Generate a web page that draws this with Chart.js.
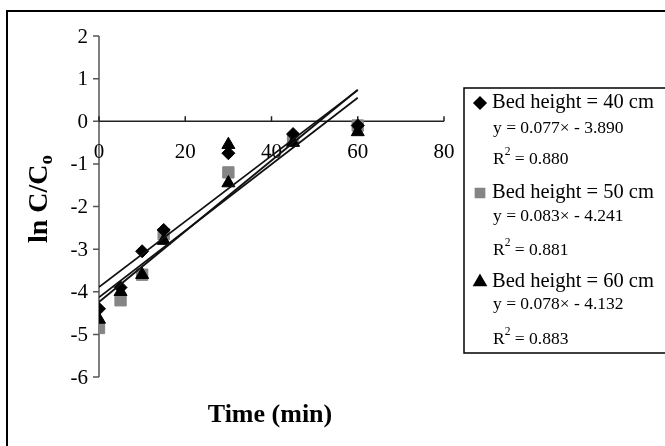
<!DOCTYPE html>
<html>
<head>
<meta charset="utf-8">
<script src="https://cdn.jsdelivr.net/npm/chart.js@4/dist/chart.umd.min.js"></script>
<style>
  html, body { margin: 0; padding: 0; background: #fff; }
  #chart { display: block; }
</style>
</head>
<body>
<canvas id="chart" width="665" height="446"></canvas>
<script>
// datos
const xTicks = [0, 20, 40, 60, 80];
const yTicks = [2, 1, 0, -1, -2, -3, -4, -5, -6];

const x40 = [0, 5, 10, 15, 30, 45, 60];
const y40 = [-4.4, -3.9, -3.05, -2.55, -0.75, -0.3, -0.1];

const x50 = [0, 5, 10, 15, 30, 45, 60];
const y50 = [-4.85, -4.2, -3.6, -2.65, -1.2, -0.45, -0.1];

const x60 = [0, 5, 10, 15, 30, 30, 45, 60];
const y60 = [-4.65, -4.0, -3.6, -2.8, -0.55, -1.45, -0.5, -0.25];

// líneas de tendencia (extremos en x = 0 y x = 60)
const trendX = [0, 60];
const trend40 = [-3.89, 0.73];
const trend50 = [-4.24, 0.74];
const trend60 = [-4.13, 0.55];

const legendLabels = ["Bed height = 40 cm", "Bed height = 50 cm", "Bed height = 60 cm"];
const legendEquations = ["y = 0.077\u00d7 - 3.890", "y = 0.083\u00d7 - 4.241", "y = 0.078\u00d7 - 4.132"];
const legendR2 = ["0.880", "0.881", "0.883"];

const serif = "'Liberation Serif', 'Times New Roman', serif";

const pts = (xs, ys) => xs.map((x, i) => ({ x: x, y: ys[i] }));

const markerStyles = [
    { pointStyle: "rectRot", radius: 6.5, color: "#000", legendRadius: 6 },
    { pointStyle: "rect", radius: 8, color: "#858585", legendRadius: 6.5 },
    { pointStyle: "triangle", radius: 7.5, color: "#000", legendRadius: 7 }
];

// plugin: ejes, títulos, leyenda y marco
const excelLook = {
    id: "excelLook",
    beforeDraw(chart) {
        const { ctx } = chart;
        ctx.save();
        ctx.fillStyle = "#fff";
        ctx.fillRect(0, 0, chart.width, chart.height);
        ctx.restore();
    },
    beforeDatasetsDraw(chart) {
        const { ctx, scales: { x, y } } = chart;
        const x0 = x.getPixelForValue(0);
        const yZero = y.getPixelForValue(0);
        ctx.save();
        ctx.strokeStyle = "#555";
        ctx.lineWidth = 1.5;

        // eje y
        ctx.beginPath();
        ctx.moveTo(x0, y.getPixelForValue(yTicks[0]));
        ctx.lineTo(x0, y.getPixelForValue(yTicks[yTicks.length - 1]));
        yTicks.forEach(v => {
            const p = y.getPixelForValue(v);
            ctx.moveTo(x0 - 6, p);
            ctx.lineTo(x0, p);
        });
        ctx.stroke();

        // eje x en y = 0
        ctx.strokeStyle = "#222";
        ctx.beginPath();
        ctx.moveTo(x0, yZero);
        ctx.lineTo(x.getPixelForValue(xTicks[xTicks.length - 1]), yZero);
        xTicks.forEach(v => {
            const p = x.getPixelForValue(v);
            ctx.moveTo(p, yZero - 5);
            ctx.lineTo(p, yZero);
        });
        ctx.stroke();

        // etiquetas
        ctx.fillStyle = "#000";
        ctx.font = "21px " + serif;
        ctx.textAlign = "right";
        ctx.textBaseline = "middle";
        yTicks.forEach(v => {
            ctx.fillText(String(v), x0 - 11, y.getPixelForValue(v) + 1);
        });
        ctx.textAlign = "center";
        xTicks.forEach(v => {
            ctx.fillText(String(v), x.getPixelForValue(v), yZero + 31);
        });

        // título eje x
        ctx.font = "bold 26px " + serif;
        ctx.fillText("Time (min)", 270, 415);

        // título eje y (rotado)
        ctx.translate(40, 199);
        ctx.rotate(-Math.PI / 2);
        const main = "ln C/C";
        ctx.font = "bold 28px " + serif;
        const wMain = ctx.measureText(main).width;
        ctx.font = "bold 19px " + serif;
        const wSub = ctx.measureText("o").width;
        const start = -(wMain + wSub) / 2;
        ctx.textAlign = "left";
        ctx.font = "bold 28px " + serif;
        ctx.fillText(main, start, 0);
        ctx.font = "bold 19px " + serif;
        ctx.fillText("o", start + wMain, 7);
        ctx.restore();
    },
    afterDraw(chart) {
        const { ctx } = chart;
        ctx.save();

        // marco exterior
        ctx.strokeStyle = "#000";
        ctx.lineWidth = 2;
        ctx.beginPath();
        ctx.moveTo(7, chart.height);
        ctx.lineTo(7, 11);
        ctx.lineTo(chart.width, 11);
        ctx.stroke();

        // caja de leyenda
        ctx.lineWidth = 1.5;
        ctx.beginPath();
        ctx.moveTo(chart.width, 88);
        ctx.lineTo(464, 88);
        ctx.lineTo(464, 353);
        ctx.lineTo(chart.width, 353);
        ctx.stroke();

        const rowTop = [103, 193, 282];
        const eqTop = [128, 216, 304];
        const rTop = [159, 250, 339];
        ctx.textBaseline = "middle";
        ctx.textAlign = "left";
        legendLabels.forEach((lab, i) => {
            const m = markerStyles[i];
            ctx.fillStyle = m.color;
            ctx.strokeStyle = m.color;
            Chart.helpers.drawPoint(ctx, {
                pointStyle: m.pointStyle,
                radius: m.legendRadius,
                rotation: 0,
                borderWidth: 1
            }, 480, rowTop[i]);
            ctx.fillStyle = "#000";
            ctx.font = "20.5px " + serif;
            ctx.fillText(lab, 492, rowTop[i]);
            ctx.font = "17.5px " + serif;
            ctx.fillText(legendEquations[i], 493, eqTop[i]);
            ctx.fillText("R", 493, rTop[i]);
            const wR = ctx.measureText("R").width;
            ctx.font = "11.5px " + serif;
            ctx.fillText("2", 493 + wR, rTop[i] - 7);
            const w2 = ctx.measureText("2").width;
            ctx.font = "17.5px " + serif;
            ctx.fillText(" = " + legendR2[i], 493 + wR + w2, rTop[i]);
        });
        ctx.restore();
    }
};

Chart.register(excelLook);

const pointSet = (data, m, order) => ({
    data: data,
    showLine: false,
    pointStyle: m.pointStyle,
    pointRadius: m.radius,
    pointBackgroundColor: m.color,
    pointBorderColor: m.color,
    pointBorderWidth: 1,
    order: order
});

const trendSet = (ys) => ({
    data: pts(trendX, ys),
    showLine: true,
    borderColor: "#111",
    borderWidth: 1.8,
    pointRadius: 0,
    fill: false,
    order: -1
});

new Chart(document.getElementById("chart"), {
    type: "scatter",
    data: {
        datasets: [
            pointSet(pts(x40, y40), markerStyles[0], 0),
            pointSet(pts(x50, y50), markerStyles[1], 2),
            pointSet(pts(x60, y60), markerStyles[2], 1),
            trendSet(trend40),
            trendSet(trend50),
            trendSet(trend60)
        ]
    },
    options: {
        responsive: false,
        animation: false,
        events: [],
        layout: {
            padding: { left: 99, right: 221, top: 36, bottom: 69 }
        },
        plugins: {
            legend: { display: false },
            tooltip: { enabled: false }
        },
        scales: {
            x: { type: "linear", min: 0, max: 80, display: false },
            y: { type: "linear", min: -6, max: 2, display: false }
        }
    }
});
</script>
</body>
</html>
